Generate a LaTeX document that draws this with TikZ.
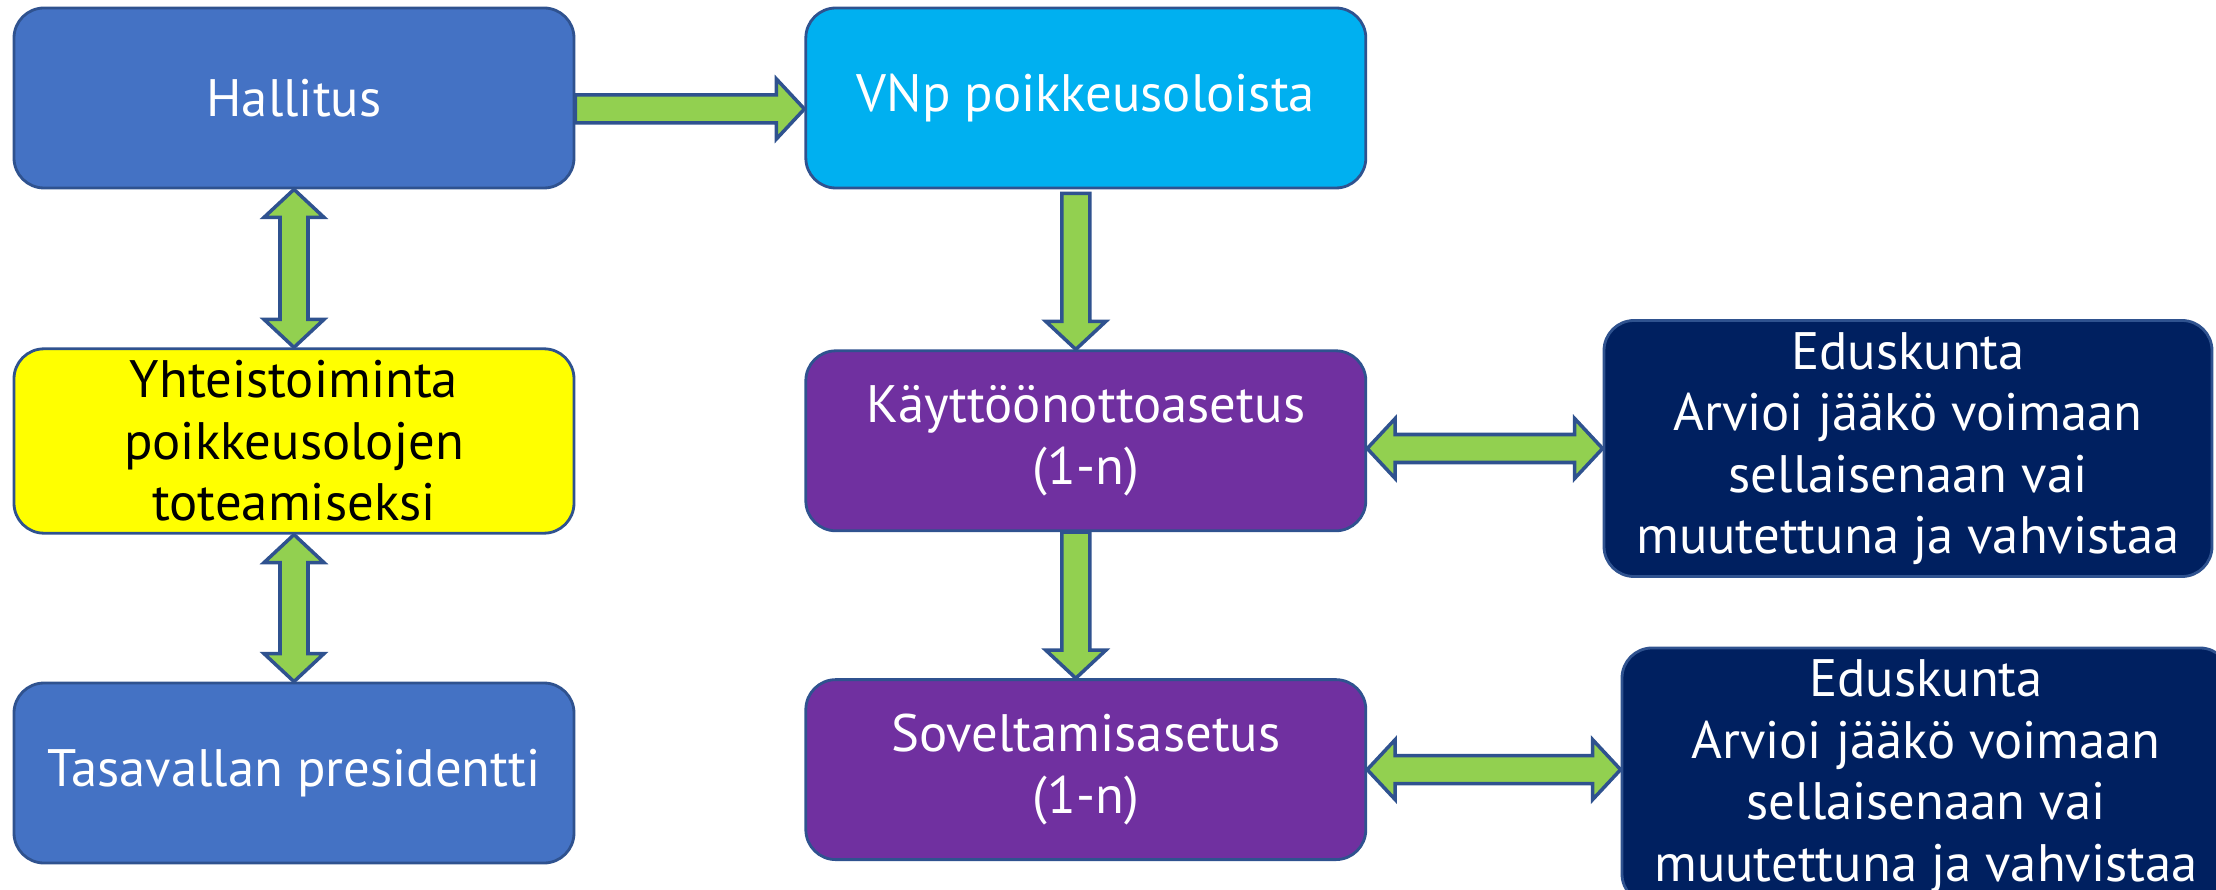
\documentclass[tikz,border=0pt]{standalone}
\usepackage{fontspec}
\setmainfont{PT Sans}
\usepackage{tikz}
\usetikzlibrary{positioning,calc}

\definecolor{hallblue}{HTML}{4472C4}
\definecolor{skyblue}{HTML}{00B0F0}
\definecolor{notewhy}{HTML}{FFFF00}
\definecolor{lawpurple}{HTML}{7030A0}
\definecolor{parlnavy}{HTML}{002060}
\definecolor{arrowgreen}{HTML}{92D050}
\definecolor{edgeblue}{HTML}{2F528F}

% arrow measures: shaft half width, head half width, head length
\def\aw{0.14cm}
\def\hw{0.30cm}
\def\ah{0.28cm}

% fat arrow from #1 to #2
\newcommand{\onearrow}[2]{%
  \path[fatarrow] let \p1=(#1), \p2=(#2),
      \n1={veclen(\x2-\x1,\y2-\y1)}, \n2={atan2(\y2-\y1,\x2-\x1)} in
    [shift={(\p1)}, rotate=\n2]
    (0,-\aw) -- (\n1-\ah,-\aw) -- (\n1-\ah,-\hw) -- (\n1,0)
    -- (\n1-\ah,\hw) -- (\n1-\ah,\aw) -- (0,\aw) -- cycle;}
% fat arrow with heads at both ends
\newcommand{\twoarrow}[2]{%
  \path[fatarrow] let \p1=(#1), \p2=(#2),
      \n1={veclen(\x2-\x1,\y2-\y1)}, \n2={atan2(\y2-\y1,\x2-\x1)} in
    [shift={(\p1)}, rotate=\n2]
    (0,0) -- (\ah,\hw) -- (\ah,\aw) -- (\n1-\ah,\aw) -- (\n1-\ah,\hw)
    -- (\n1,0) -- (\n1-\ah,-\hw) -- (\n1-\ah,-\aw) -- (\ah,-\aw)
    -- (\ah,-\hw) -- cycle;}

\begin{document}
\begin{tikzpicture}[node distance=1.6cm,
    every node/.style={font=\fontsize{15}{17.5}\selectfont},
    box/.style={rectangle, rounded corners=0.3cm, draw=edgeblue,
                line width=0.8pt, text=white, align=center,
                minimum width=5.6cm, minimum height=1.8cm},
    wide/.style={box, minimum width=6.08cm, minimum height=2.39cm},
    fatarrow/.style={fill=arrowgreen, draw=edgeblue, line width=1pt,
                     line join=miter}]
  \useasboundingbox (0,0) rectangle (22.16,-8.90);
  \clip (0,0) rectangle (22.16,-8.90);

  \node[box, fill=hallblue]  (hall)  at (2.94,-0.98) {Hallitus};
  \node[box, fill=skyblue]   (vnp)    [right=2.29cm of hall] {VNp poikkeusoloista};
  \node[box, fill=notewhy, text=black] (yht) [below=1.58cm of hall]
        {Yhteistoiminta\\poikkeusolojen\\toteamiseksi};
  \node[box, fill=lawpurple] (kaytto) [below=1.6cm of vnp] {Käyttöönottoasetus\\(1-n)};
  \node[box, fill=hallblue]  (pres)   [below=1.47cm of yht] {Tasavallan presidentti};
  \node[box, fill=lawpurple] (sovel)  [below=1.46cm of kaytto] {Soveltamisasetus\\(1-n)};
  \node[wide, fill=parlnavy] (edus1)  at (19.08,-4.485)
        {Eduskunta\\Arvioi jääkö voimaan\\sellaisenaan vai\\muutettuna ja vahvistaa};
  \node[wide, fill=parlnavy] (edus2)  at (19.26,-7.76)
        {Eduskunta\\Arvioi jääkö voimaan\\sellaisenaan vai\\muutettuna ja vahvistaa};

  \onearrow{[yshift=-0.11cm]hall.east}{[yshift=-0.11cm]vnp.west}
  \twoarrow{hall.south}{yht.north}
  \twoarrow{yht.south}{pres.north}
  \onearrow{[xshift=-0.1cm,yshift=-0.04cm]vnp.south}{[xshift=-0.1cm]kaytto.north}
  \onearrow{[xshift=-0.1cm]kaytto.south}{[xshift=-0.1cm]sovel.north}
  \twoarrow{kaytto.east |- edus1.west}{edus1.west}
  \twoarrow{sovel.east}{edus2.west |- sovel.east}
\end{tikzpicture}
\end{document}
